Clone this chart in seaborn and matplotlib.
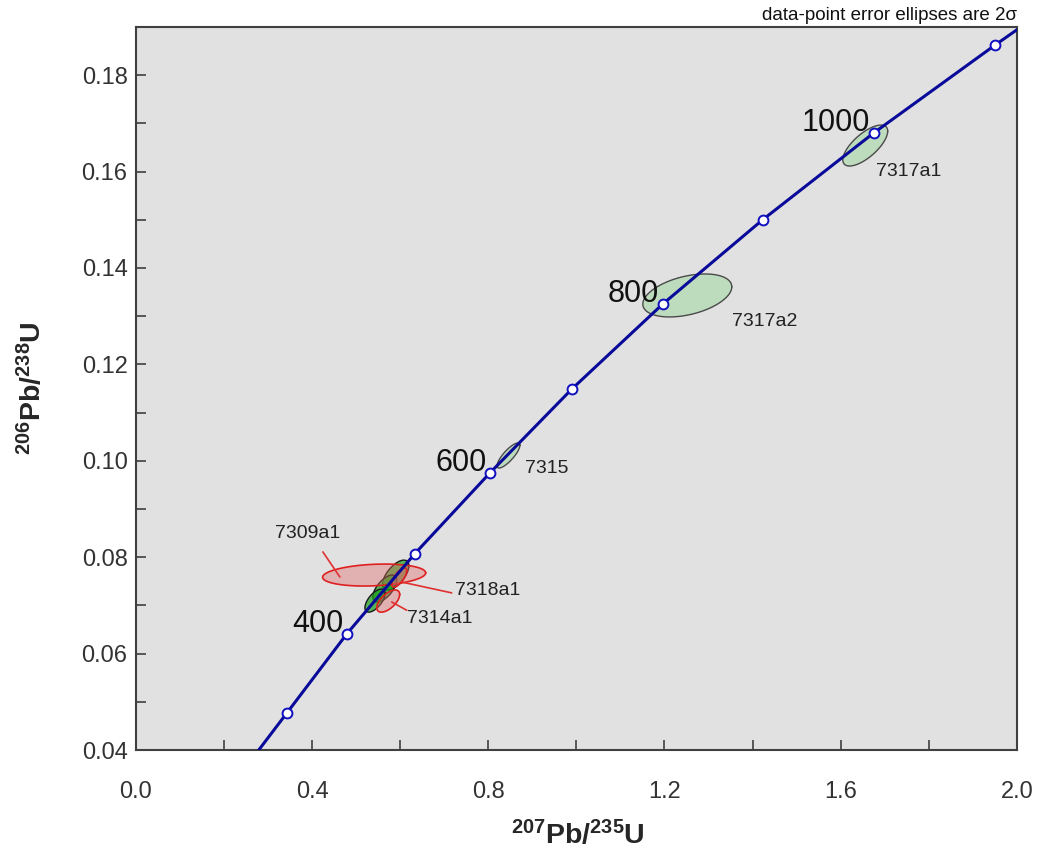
import numpy as np
import matplotlib
matplotlib.use("Agg")
import matplotlib.pyplot as plt
import seaborn as sns

# concordia curve (207Pb/235U, 206Pb/238U)
curve_x = [0.279, 0.343, 0.479, 0.633, 0.804, 0.990, 1.196, 1.423, 1.675, 1.950, 2.000]
curve_y = [0.0400, 0.0477, 0.0641, 0.0807, 0.0975, 0.1149, 0.1325, 0.1500, 0.1680, 0.1862, 0.1894]

# age markers every 100 Ma
marker_ages = [300, 400, 500, 600, 700, 800, 900, 1000, 1100]
marker_x = [0.343, 0.479, 0.633, 0.804, 0.990, 1.196, 1.423, 1.675, 1.950]
marker_y = [0.0477, 0.0641, 0.0807, 0.0975, 0.1149, 0.1325, 0.1500, 0.1680, 0.1862]
labelled_ages = [400, 600, 800, 1000]

# error ellipses: centre, half-widths (2 sigma), correlation
ell_names = ["7317a1", "7317a2", "7315", "g1", "g2", "g3", "7309a1", "7314a1", "7318a1"]
ell_cx = [1.656, 1.252, 0.846, 0.590, 0.565, 0.543, 0.541, 0.573, 0.598]
ell_cy = [0.1654, 0.1343, 0.1011, 0.0763, 0.0735, 0.0710, 0.0763, 0.0709, 0.0758]
ell_hx = [0.051, 0.101, 0.026, 0.030, 0.027, 0.023, 0.117, 0.026, 0.017]
ell_hy = [0.00425, 0.00446, 0.0026, 0.0031, 0.0028, 0.0024, 0.00228, 0.0023, 0.0020]
ell_rho = [0.70, 0.40, 0.82, 0.62, 0.62, 0.62, 0.20, 0.60, 0.70]
ell_kind = ["light", "light", "light", "dark", "dark", "dark", "red", "red", "red"]

sns.set_style("white")
plt.rcParams["font.family"] = ["Liberation Sans", "DejaVu Sans"]
plt.rcParams["mathtext.default"] = "regular"

fig = plt.figure(figsize=(10.45, 8.56), dpi=100)
ax = fig.add_axes([0.130, 0.1238, 0.843, 0.8447])
ax.set_facecolor("#e1e1e1")

styles = {
    "light": dict(fc="#bddbbd", ec="#4a4a4a", alpha=1.0, lw=1.0),
    "dark": dict(fc="#18a018", ec="#1a1a1a", alpha=0.7, lw=1.0),
    "red": dict(fc="#e36a6a", ec="#e02020", alpha=0.4, lw=1.2),
}

t = np.linspace(0, 2 * np.pi, 200)
for order in ["light", "dark", "red"]:
    for i in range(len(ell_names)):
        if ell_kind[i] != order:
            continue
        ex = ell_cx[i] + ell_hx[i] * np.cos(t)
        ey = ell_cy[i] + ell_hy[i] * (ell_rho[i] * np.cos(t) + np.sqrt(1 - ell_rho[i] ** 2) * np.sin(t))
        st = styles[order]
        ax.fill(ex, ey, color=st["fc"], alpha=st["alpha"], lw=0, zorder=2)
        ax.plot(ex, ey, color=st["ec"], lw=st["lw"], zorder=2)

# concordia
sns.lineplot(x=curve_x, y=curve_y, sort=False, color="#0a0a9a", lw=2.2, ax=ax, zorder=3)
sns.scatterplot(x=marker_x, y=marker_y, s=50, color="white", edgecolor="#1010c0",
                linewidth=1.4, ax=ax, zorder=4)

# age labels
for age, mx, my in zip(marker_ages, marker_x, marker_y):
    if age in labelled_ages:
        ax.text(mx - 0.008, my + 0.0020, str(age), fontsize=22, ha="right", va="center",
                color="#111111", zorder=5)

# sample labels
lab = dict(fontsize=14, ha="left", va="center", color="#222222")
ax.text(1.680, 0.1600, "7317a1", **lab)
ax.text(1.353, 0.1288, "7317a2", **lab)
ax.text(0.883, 0.0985, "7315", **lab)
ax.text(0.316, 0.0850, "7309a1", **lab)
ax.text(0.724, 0.0730, "7318a1", **lab)
ax.text(0.615, 0.0672, "7314a1", **lab)

# red leader lines
ax.plot([0.4246, 0.4632], [0.0811, 0.0759], color="#e03030", lw=1.2, zorder=5)
ax.plot([0.606, 0.717], [0.0748, 0.0726], color="#e03030", lw=1.2, zorder=5)
ax.plot([0.581, 0.615], [0.0707, 0.0690], color="#e03030", lw=1.2, zorder=5)

ax.set_xlim(0.0, 2.0)
ax.set_ylim(0.04, 0.19)
ax.set_xticks(np.arange(0.0, 2.01, 0.4))
ax.set_xticks(np.arange(0.0, 2.01, 0.2), minor=True)
ax.set_yticks(np.arange(0.04, 0.181, 0.02))
ax.set_yticks(np.arange(0.04, 0.19, 0.01), minor=True)
ax.xaxis.set_major_formatter(matplotlib.ticker.FormatStrFormatter("%.1f"))
ax.yaxis.set_major_formatter(matplotlib.ticker.FormatStrFormatter("%.2f"))
ax.tick_params(which="both", direction="in", bottom=True, left=True, color="#404040",
               width=1.2, length=7, labelsize=17, labelcolor="#333333")
ax.tick_params(axis="x", which="both", pad=22)
ax.tick_params(axis="y", which="both", pad=6)
for sp in ax.spines.values():
    sp.set_visible(True)
    sp.set_color("#404040")
    sp.set_linewidth(1.5)

ax.set_xlabel(r"$^{207}$Pb/$^{235}$U", fontsize=20.5, fontweight="bold")
ax.set_ylabel(r"$^{206}$Pb/$^{238}$U", fontsize=20.5, fontweight="bold")
ax.xaxis.set_label_coords(0.502, -0.097)
ax.yaxis.set_label_coords(-0.100, 0.5)

ax.text(1.0, 1.004, "data-point error ellipses are 2\u03c3", transform=ax.transAxes,
        fontsize=13.5, ha="right", va="bottom", color="#111111")

fig.savefig("out.png", dpi=100)
